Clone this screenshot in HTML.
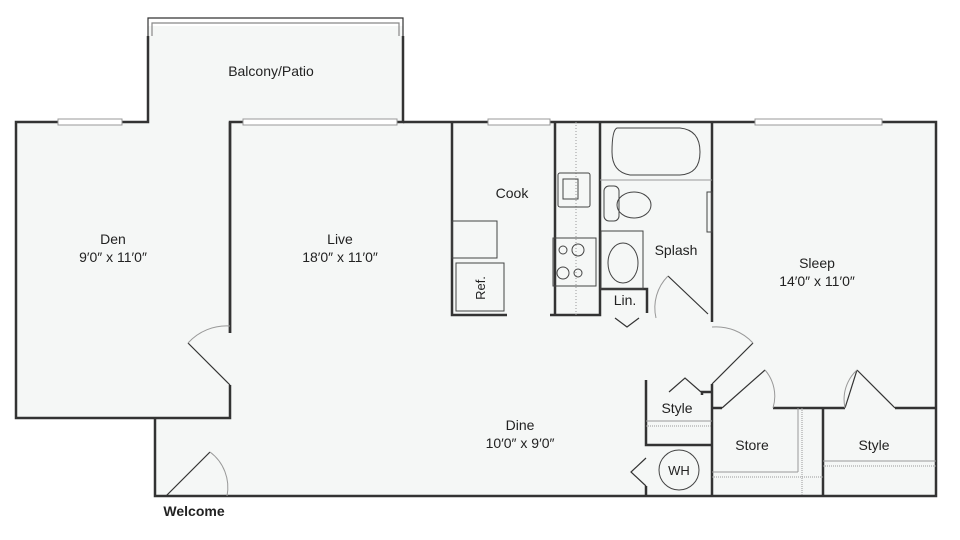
<!DOCTYPE html>
<html><head><style>body{margin:0;background:#fff}svg{display:block}text{font-family:"Liberation Sans",sans-serif;fill:#222;font-size:14px;text-anchor:middle}</style></head><body>
<svg width="960" height="540" viewBox="0 0 960 540">
<g fill="#f5f7f6" stroke="none">
<rect x="148" y="26" width="255" height="96"/>
<rect x="16" y="122" width="920" height="296"/>
<rect x="155" y="418" width="781" height="78"/>
</g>
<g fill="none" stroke="#333" stroke-width="2.5">
<polyline points="148,36 148,122 16,122 16,418 230,418 230,385"/>
<polyline points="230,333 230,122 403,122 403,36"/>
<polyline points="403,122 936,122 936,496 155,496 155,418"/>
<line x1="230" y1="122" x2="230" y2="333"/>
<polyline points="452,122 452,315 507,315"/>
<polyline points="550,315 600,315 600,122"/>
<line x1="555" y1="122" x2="555" y2="315"/>
<polyline points="600,289 647,289 647,313"/>
<line x1="712" y1="122" x2="712" y2="322"/>
<line x1="712" y1="384" x2="712" y2="496"/>
<polyline points="646,380 646,445 712,445"/>
<polyline points="712,408 722,408"/>
<polyline points="773,408 845,408"/>
<polyline points="895,408 936,408"/>
<line x1="823" y1="408" x2="823" y2="496"/>
<line x1="646" y1="486" x2="646" y2="496"/>
<polyline points="702,395 702,392 712,392"/>
</g>
<g fill="none" stroke="#333" stroke-width="1.2">
<polyline points="148,36 148,18 403,18 403,36"/>
<polyline points="152,36 152,23 399,23 399,36" stroke="#888"/>
<line x1="188" y1="343" x2="230" y2="385"/>
<line x1="166" y1="496" x2="210" y2="452"/>
<line x1="712" y1="384" x2="753" y2="343"/>
<line x1="722" y1="408" x2="765" y2="370"/>
<line x1="845" y1="408" x2="857" y2="370"/>
<line x1="857" y1="370" x2="895" y2="408"/>
<line x1="668" y1="276" x2="708" y2="314"/>
<polyline points="669,392 685,378 701,392"/>
<polyline points="646,458 631,472 646,486"/>
<polyline points="615,318 627,327 639,318"/>
</g>
<g fill="none" stroke="#999" stroke-width="1">
<path d="M188,343 A52,52 0 0 1 230,326"/>
<path d="M210,452 A44,44 0 0 1 227,496"/>
<path d="M668,276 A45,45 0 0 0 656,318"/>
<path d="M712,327 A50,50 0 0 1 753,343"/>
<path d="M765,370 A40,40 0 0 1 773,408"/>
<path d="M857,370 A40,40 0 0 0 845,408"/>
<g fill="#fff" stroke="#999">
<rect x="58" y="119" width="64" height="6"/>
<rect x="243" y="119" width="154" height="6"/>
<rect x="488" y="119" width="62" height="6"/>
<rect x="755" y="119" width="127" height="6"/>
</g>
<line x1="646" y1="421" x2="712" y2="421"/>
<line x1="646" y1="426" x2="712" y2="426" stroke-dasharray="1,1"/>
<line x1="712" y1="472" x2="798" y2="472"/>
<line x1="798" y1="408" x2="798" y2="472"/>
<line x1="712" y1="477" x2="823" y2="477" stroke-dasharray="1,1"/>
<line x1="802" y1="408" x2="802" y2="496" stroke-dasharray="1,1"/>
<line x1="823" y1="461" x2="936" y2="461"/>
<line x1="823" y1="466" x2="936" y2="466" stroke-dasharray="1,1"/>
<line x1="576" y1="122" x2="576" y2="315" stroke-dasharray="1,2"/>
<line x1="600" y1="180" x2="712" y2="180"/>
</g>
<g fill="none" stroke="#444" stroke-width="1">
<rect x="452" y="221" width="45" height="37"/>
<rect x="456" y="263" width="48" height="48"/>
<rect x="558" y="173" width="32" height="34" rx="2"/>
<rect x="563" y="179" width="15" height="20"/>
<rect x="553" y="238" width="43" height="48"/>
<circle cx="563" cy="250" r="4"/><circle cx="578" cy="250" r="6"/>
<circle cx="563" cy="273" r="6"/><circle cx="578" cy="273" r="4"/>
<path d="M617,128 L680,128 Q700,130 700,152 Q700,174 680,175 L630,175 Q612,172 612,152 Q612,130 617,128Z"/>
<rect x="604" y="186" width="15" height="35" rx="5"/>
<ellipse cx="634" cy="205" rx="17" ry="13"/>
<rect x="601" y="231" width="42" height="58"/>
<ellipse cx="623" cy="263" rx="15" ry="20"/>
<rect x="707" y="192" width="5" height="40"/>
<circle cx="679" cy="470" r="20"/>
</g>
<text x="271" y="76">Balcony/Patio</text>
<text x="113" y="244">Den</text>
<text x="113" y="262">9′0″ x 11′0″</text>
<text x="340" y="244">Live</text>
<text x="340" y="262">18′0″ x 11′0″</text>
<text x="512" y="198">Cook</text>
<text x="676" y="255">Splash</text>
<text x="817" y="268">Sleep</text>
<text x="817" y="286">14′0″ x 11′0″</text>
<text x="625" y="305">Lin.</text>
<text x="677" y="413">Style</text>
<text x="752" y="450">Store</text>
<text x="874" y="450">Style</text>
<text x="679" y="475" style="font-size:13px">WH</text>
<text x="520" y="430">Dine</text>
<text x="520" y="448">10′0″ x 9′0″</text>
<text x="194" y="516" style="font-weight:bold;font-size:14px">Welcome</text>
<text transform="translate(485,288) rotate(-90)" style="font-size:13px">Ref.</text>
</svg>
</body></html>
